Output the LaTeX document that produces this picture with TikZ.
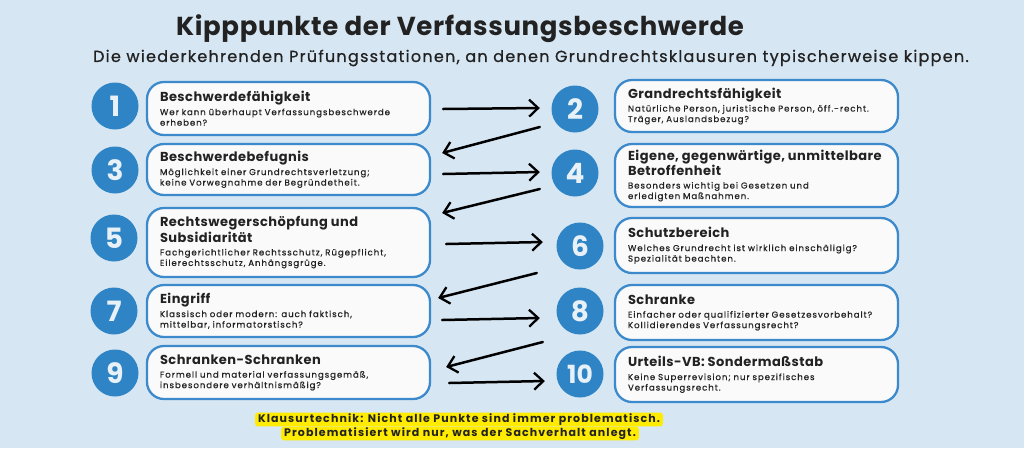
\documentclass[tikz,border=0pt]{standalone}
\usepackage{fontspec}
\setmainfont{Poppins}
\newfontfamily\bodyf[FakeBold=0.6,LetterSpace=11]{Poppins}
\newfontfamily\headf[LetterSpace=3.5]{Poppins}
\newfontfamily\subf[FakeBold=0.8,LetterSpace=8]{Poppins}
\newfontfamily\notef[LetterSpace=10]{Poppins}
\newfontfamily\titlef[LetterSpace=2.5]{Poppins}
\usetikzlibrary{arrows.meta,calc}
\definecolor{bgblue}{RGB}{214,230,243}
\definecolor{cblue}{RGB}{46,132,196}
\definecolor{bblue}{RGB}{60,138,203}
\definecolor{boxfill}{RGB}{250,250,250}
\definecolor{txt}{RGB}{34,34,34}
\definecolor{numtxt}{RGB}{232,240,248}
\definecolor{hl}{RGB}{255,236,0}
\newcommand{\hd}[1]{{\headf\fontsize{13}{15}\selectfont\bfseries #1}}
\tikzset{
  numc/.style={circle,fill=cblue,minimum size=47pt,inner sep=0pt,text=numtxt,font=\fontsize{28}{28}\selectfont\bfseries},
  card/.style={draw=bblue,line width=2.3pt,fill=boxfill,rounded corners=17pt,minimum width=283pt,text width=257pt,inner xsep=13pt,align=left,text=txt,font=\bodyf\fontsize{8.6}{10.5}\selectfont},
  flow/.style={line width=2.5pt,line cap=round,black,-{Straight Barb[length=9pt,width=17pt,line width=2.3pt]}},
  note/.style={fill=hl,rounded corners=3pt,inner xsep=3pt,inner ysep=1.2pt,text=txt,font=\notef\bfseries\fontsize{11}{13}\selectfont,text height=9pt,text depth=2.5pt}
}
\begin{document}
\begin{tikzpicture}[x=1pt,y=-1pt]
\fill[bgblue] (0,0) rectangle (1024,448);
\useasboundingbox (0,0) rectangle (1024,448);
\node[text=txt,font=\titlef\bfseries\fontsize{26}{28}\selectfont] (title) at (460,29) {Kipppunkte der Verfassungsbeschwerde};
\node[text=txt,font=\subf\fontsize{16}{18}\selectfont] (sub) at (531,58) {Die wiederkehrenden Prüfungsstationen, an denen Grundrechtsklausuren typischerweise kippen.};
% circles
\node[numc] (c1) at (115,106) {1};
\node[numc] (c3) at (115,170) {3};
\node[numc] (c5) at (114,238) {5};
\node[numc] (c7) at (114,311) {7};
\node[numc] (c9) at (115,373) {9};
\node[numc] (c2) at (575,109) {2};
\node[numc] (c4) at (575,173) {4};
\node[numc] (c6) at (580,246) {6};
\node[numc] (c8) at (580,311) {8};
\node[numc,font=\fontsize{25}{25}\selectfont\bfseries] (c10) at (580,374) {10};
% cards
\node[card,minimum height=53pt] (b1) at (288.5,108.5) {\hd{Beschwerdefähigkeit}\\[3pt]Wer kann überhaupt Verfassungsbeschwerde\\erheben?};
\node[card,minimum height=51pt] (b3) at (288.5,169.5) {\hd{Beschwerdebefugnis}\\[3pt]Möglichkeit einer Grundrechtsverletzung;\\keine Vorwegnahme der Begründetheit.};
\node[card,minimum height=69pt] (b5) at (288.5,242.5) {\hd{Rechtswegerschöpfung und}\\[0.5pt]\hd{Subsidiarität}\\[2.5pt]Fachgerichtlicher Rechtsschutz, Rügepflicht,\\Eilerechtsschutz, Anhängsgrüge.};
\node[card,minimum height=52pt] (b7) at (288.5,311) {\hd{Eingriff}\\[3pt]Klassisch oder modern: auch faktisch,\\mittelbar, informatorstisch?};
\node[card,minimum height=53pt] (b9) at (288.5,372.5) {\hd{Schranken-Schranken}\\[3pt]Formell und material verfassungsgemäß,\\insbesondere verhältnismäßig?};
\node[card,minimum height=52pt] (b2) at (756.5,106) {\hd{Grandrechtsfähigkeit}\\[3pt]Natürliche Person, juristische Person, öff.-recht.\\Träger, Auslandsbezug?};
\node[card,minimum height=63pt] (b4) at (756.5,175.5) {\hd{Eigene, gegenwärtige, unmittelbare}\\[0.5pt]\hd{Betroffenheit}\\[2.5pt]Besonders wichtig bei Gesetzen und\\erledigten Maßnahmen.};
\node[card,minimum height=55pt] (b6) at (756.5,245.5) {\hd{Schutzbereich}\\[3pt]Welches Grundrecht ist wirklich einschäligig?\\Spezialität beachten.};
\node[card,minimum height=55pt] (b8) at (756.5,312.5) {\hd{Schranke}\\[3pt]Einfacher oder qualifizierter Gesetzesvorbehalt?\\Kollidierendes Verfassungsrecht?};
\node[card,minimum height=55pt] (b10) at (756.5,374.5) {\hd{Urteils-VB: Sondermaßstab}\\[3pt]Keine Superrevision; nur spezifisches\\Verfassungsrecht.};
% arrows
\draw[flow] ($(b1.east)+(12,0.5)$) -- ($(c2.west)+(-11.5,-1)$);
\draw[flow] ($(c2.west)+(-11.5,18)$) -- ($(b3.east)+(11,-16.5)$);
\draw[flow] ($(b3.east)+(12,4.5)$) -- ($(c4.west)+(-11.5,-1)$);
\draw[flow] ($(c4.west)+(-11.5,16)$) -- ($(b5.east)+(11,-29.5)$);
\draw[flow] ($(b5.east)+(15,1.5)$) -- ($(c6.west)+(-13.5,-4)$);
\draw[flow] ($(c6.west)+(-19.5,27)$) -- ($(b7.east)+(7,-13)$);
\draw[flow] ($(b7.east)+(11,9)$) -- ($(c8.west)+(-16.5,7)$);
\draw[flow] ($(c8.west)+(-13.5,31)$) -- ($(b9.east)+(15,-5.5)$);
\draw[flow] ($(b9.east)+(18,10.5)$) -- ($(c10.west)+(-11.5,7)$);
% note
\node[note] (n1) at (459,419.5) {Klausurtechnik: Nicht alle Punkte sind immer problematisch.};
\node[note] (n2) at (460,433.5) {Problematisiert wird nur, was der Sachverhalt anlegt.};
\end{tikzpicture}
\end{document}
